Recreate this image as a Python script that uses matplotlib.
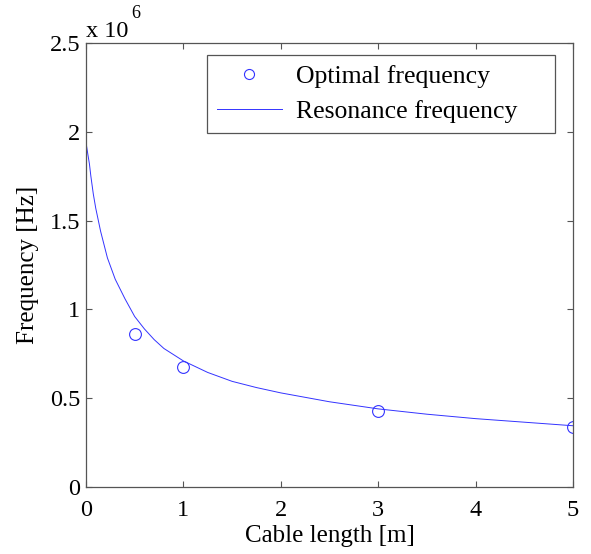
import numpy as np
import matplotlib.pyplot as plt
from matplotlib.ticker import FuncFormatter

plt.rcParams['font.family'] = ['Liberation Serif', 'DejaVu Serif']

# resonance frequency curve (Hz)
cable_len = [0, 0.02, 0.035, 0.05, 0.075, 0.1, 0.15, 0.22, 0.3, 0.4, 0.5,
             0.6, 0.7, 0.8, 0.9, 1.0, 1.25, 1.5, 1.75, 2.0, 2.5, 3.0, 3.5,
             4.0, 4.5, 5.0]
res_freq = [1.94e6, 1.87e6, 1.82e6, 1.75e6, 1.65e6, 1.57e6, 1.44e6, 1.29e6,
            1.17e6, 1.06e6, 0.96e6, 0.89e6, 0.83e6, 0.78e6, 0.745e6, 0.71e6,
            0.645e6, 0.595e6, 0.56e6, 0.53e6, 0.48e6, 0.44e6, 0.41e6,
            0.385e6, 0.365e6, 0.345e6]

# measured optimal frequency
opt_len = [0.5, 1.0, 3.0, 5.0]
opt_freq = [0.86e6, 0.675e6, 0.43e6, 0.337e6]

fig = plt.figure(figsize=(5.91, 5.54), dpi=100)
ax = fig.add_axes([0.1455, 0.1209, 0.824, 0.8015])

ax.plot(opt_len, opt_freq, 'o', color='#3333ff', markerfacecolor='none',
        markersize=8.5, markeredgewidth=0.8, label='Optimal frequency')
ax.plot(cable_len, res_freq, '-', color='#3333ff', linewidth=0.7,
        label='Resonance frequency')

ax.set_xlim(0, 5)
ax.set_ylim(0, 2.5e6)
ax.set_xticks([0, 1, 2, 3, 4, 5])
ax.set_yticks([0, 0.5e6, 1e6, 1.5e6, 2e6, 2.5e6])
ax.yaxis.set_major_formatter(FuncFormatter(lambda v, p: '%g' % (v / 1e6)))

ax.tick_params(direction='in', top=True, right=True, length=4,
               width=0.8, color='#555555', labelsize=17.5)
ax.tick_params(axis='x', pad=9)
ax.tick_params(axis='y', pad=4)
for s in ax.spines.values():
    s.set_color('#555555')
    s.set_linewidth(0.9)

ax.set_xlabel('Cable length [m]', fontsize=18, labelpad=3)
ax.set_ylabel('Frequency [Hz]', fontsize=18, labelpad=8)

ax.text(0.0, 1.0135, 'x 10', transform=ax.transAxes, fontsize=17.5,
        ha='left', va='baseline')
ax.text(0.092, 1.047, '6', transform=ax.transAxes, fontsize=13,
        ha='left', va='bottom')

leg = ax.legend(loc='upper left', bbox_to_anchor=(0.2485, 0.80, 0.7146, 0.173),
                mode='expand', fontsize=18.5, frameon=True, fancybox=False,
                framealpha=1, handlelength=2.5, handletextpad=0.55,
                borderpad=0.4, labelspacing=0.45, borderaxespad=0,
                markerscale=0.85)
leg.get_frame().set_edgecolor('#555555')
leg.get_frame().set_linewidth(0.9)

fig.savefig('out.png', dpi=100)
